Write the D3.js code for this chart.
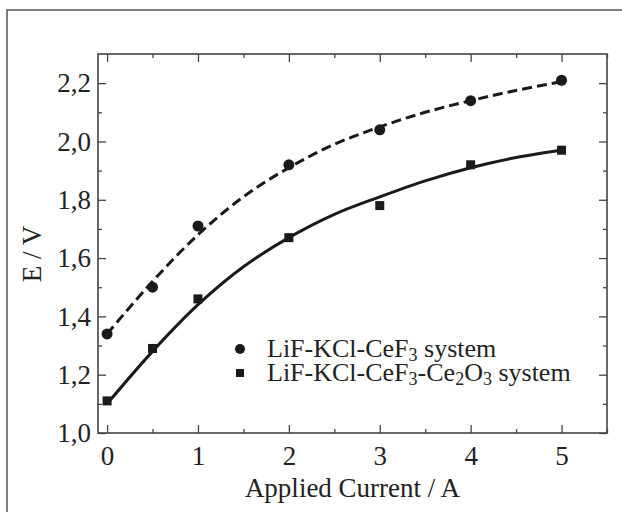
<!DOCTYPE html>
<html>
<head>
<meta charset="utf-8">
<script src="https://cdn.jsdelivr.net/npm/d3@7"></script>
<style>
  body { margin: 0; background: #fff; }
  text { font-family: "Liberation Serif", "Times New Roman", serif; fill: #222; }
</style>
</head>
<body>
<script>
// measured points
const currents = [0, 0.5, 1, 2, 3, 4, 5];
const ceF3 = [1.34, 1.50, 1.71, 1.92, 2.04, 2.14, 2.21];
const ceF3Ce2O3 = [1.11, 1.29, 1.46, 1.67, 1.78, 1.92, 1.97];

// fitted curves
const fitX = [0, 0.5, 1, 1.5, 2, 2.5, 3, 3.5, 4, 4.5, 5];
const fitCeF3 = [1.34, 1.52, 1.68, 1.81, 1.91, 1.99, 2.05, 2.10, 2.14, 2.175, 2.205];
const fitCeF3Ce2O3 = [1.10, 1.28, 1.44, 1.57, 1.67, 1.75, 1.81, 1.865, 1.91, 1.945, 1.97];

const xTicks = [0, 1, 2, 3, 4, 5];
const yTicks = [1.0, 1.2, 1.4, 1.6, 1.8, 2.0, 2.2];

const width = 622, height = 512;
const margin = { top: 54, right: 15, bottom: 79, left: 98 };

let svg = d3.select("body").append("svg")
    .attr("width", width)
    .attr("height", height);

// outer frame
svg.append("rect")
    .attr("x", 7).attr("y", 10)
    .attr("width", 700).attr("height", 600)
    .attr("fill", "none")
    .attr("stroke", "#555")
    .attr("stroke-width", 1.5);

let x = d3.scaleLinear().domain([-0.1, 5.5]).range([margin.left, width - margin.right]);
let y = d3.scaleLinear().domain([1.0, 2.3]).range([height - margin.bottom, margin.top]);

const comma = v => d3.format(".1f")(v).replace(".", ",");
const axisColor = "#444";

function styleAxis(g) {
    g.select(".domain").remove();
    g.selectAll("line").attr("stroke", axisColor).attr("stroke-width", 1.3);
    g.selectAll("text").style("font-size", "27px").attr("fill", "#222");
}

// plot box
svg.append("rect")
    .attr("x", x.range()[0]).attr("y", y.range()[1])
    .attr("width", x.range()[1] - x.range()[0])
    .attr("height", y.range()[0] - y.range()[1])
    .attr("fill", "none")
    .attr("stroke", axisColor)
    .attr("stroke-width", 1.6);

const xMinor = d3.range(0, 5.51, 0.5).filter(v => !xTicks.includes(v));
const yMinor = d3.range(1.1, 2.3, 0.2);

// bottom
svg.append("g").attr("transform", `translate(0,${y.range()[0]})`)
    .call(d3.axisBottom(x).tickValues(xTicks).tickSize(-8).tickPadding(13).tickFormat(d3.format("d")))
    .call(styleAxis);
svg.append("g").attr("transform", `translate(0,${y.range()[0]})`)
    .call(d3.axisBottom(x).tickValues(xMinor).tickSize(-4).tickFormat(""))
    .call(styleAxis);
// top
svg.append("g").attr("transform", `translate(0,${y.range()[1]})`)
    .call(d3.axisTop(x).tickValues(xTicks).tickSize(-8).tickFormat(""))
    .call(styleAxis);
svg.append("g").attr("transform", `translate(0,${y.range()[1]})`)
    .call(d3.axisTop(x).tickValues(xMinor).tickSize(-4).tickFormat(""))
    .call(styleAxis);
// left
svg.append("g").attr("transform", `translate(${x.range()[0]},0)`)
    .call(d3.axisLeft(y).tickValues(yTicks).tickSize(-8).tickPadding(7).tickFormat(comma))
    .call(styleAxis);
svg.append("g").attr("transform", `translate(${x.range()[0]},0)`)
    .call(d3.axisLeft(y).tickValues(yMinor).tickSize(-4).tickFormat(""))
    .call(styleAxis);
// right
svg.append("g").attr("transform", `translate(${x.range()[1]},0)`)
    .call(d3.axisRight(y).tickValues(yTicks).tickSize(-8).tickFormat(""))
    .call(styleAxis);
svg.append("g").attr("transform", `translate(${x.range()[1]},0)`)
    .call(d3.axisRight(y).tickValues(yMinor).tickSize(-4).tickFormat(""))
    .call(styleAxis);

// axis titles
svg.append("text")
    .attr("x", (x.range()[0] + x.range()[1]) / 2)
    .attr("y", 497)
    .attr("text-anchor", "middle")
    .style("font-size", "27px")
    .text("Applied Current / A");

svg.append("text")
    .attr("transform", `translate(41,254) rotate(-90)`)
    .attr("text-anchor", "middle")
    .style("font-size", "27px")
    .text("E / V");

// fit lines
let line = d3.line()
    .x(d => x(d[0]))
    .y(d => y(d[1]))
    .curve(d3.curveCatmullRom);

svg.append("path")
    .datum(fitX.map((v, i) => [v, fitCeF3[i]]))
    .attr("d", line)
    .attr("fill", "none")
    .attr("stroke", "#1a1a1a")
    .attr("stroke-width", 3)
    .attr("stroke-dasharray", "10,5");

svg.append("path")
    .datum(fitX.map((v, i) => [v, fitCeF3Ce2O3[i]]))
    .attr("d", line)
    .attr("fill", "none")
    .attr("stroke", "#1a1a1a")
    .attr("stroke-width", 3);

// markers
svg.append("g").selectAll("circle")
    .data(currents.map((v, i) => [v, ceF3[i]]))
    .enter().append("circle")
    .attr("cx", d => x(d[0]))
    .attr("cy", d => y(d[1]))
    .attr("r", 5.5)
    .attr("fill", "#1a1a1a");

svg.append("g").selectAll("rect")
    .data(currents.map((v, i) => [v, ceF3Ce2O3[i]]))
    .enter().append("rect")
    .attr("x", d => x(d[0]) - 4.5)
    .attr("y", d => y(d[1]) - 4.5)
    .attr("width", 9)
    .attr("height", 9)
    .attr("fill", "#1a1a1a");

// legend
let legend = svg.append("g");
legend.append("circle").attr("cx", 240).attr("cy", 349).attr("r", 5).attr("fill", "#1a1a1a");
legend.append("rect").attr("x", 236).attr("y", 369).attr("width", 8).attr("height", 8).attr("fill", "#1a1a1a");

let t1 = legend.append("text").attr("x", 267).attr("y", 357).style("font-size", "26px");
t1.append("tspan").text("LiF-KCl-CeF");
t1.append("tspan").attr("baseline-shift", "-4").style("font-size", "18px").text("3");
t1.append("tspan").text(" system");

let t2 = legend.append("text").attr("x", 267).attr("y", 381).style("font-size", "26px");
t2.append("tspan").text("LiF-KCl-CeF");
t2.append("tspan").attr("baseline-shift", "-4").style("font-size", "18px").text("3");
t2.append("tspan").text("-Ce");
t2.append("tspan").attr("baseline-shift", "-4").style("font-size", "18px").text("2");
t2.append("tspan").text("O");
t2.append("tspan").attr("baseline-shift", "-4").style("font-size", "18px").text("3");
t2.append("tspan").text(" system");
</script>
</body>
</html>
